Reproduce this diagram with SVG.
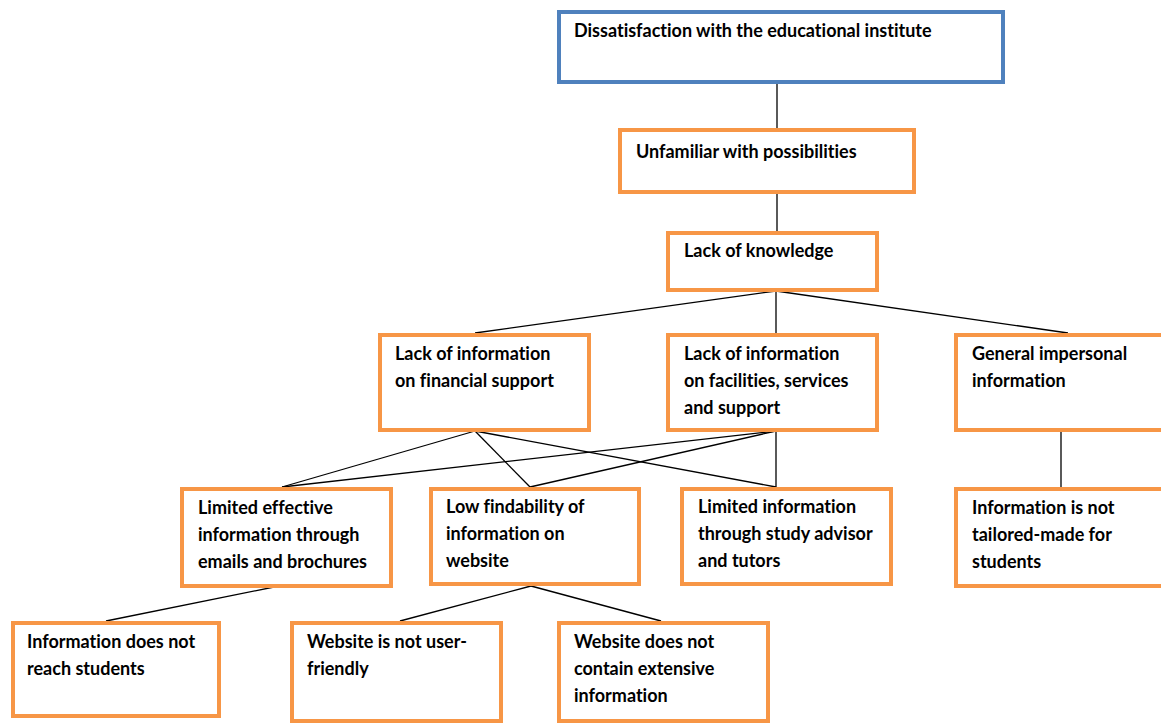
<svg xmlns="http://www.w3.org/2000/svg" width="1161" height="725" viewBox="0 0 1161 725">
  <style>
    .box { fill: #ffffff; stroke: #F79646; stroke-width: 4; }
    .root { fill: #ffffff; stroke: #4F81BD; stroke-width: 4; }
    .lbl { font-family: Lato, "Liberation Sans", sans-serif; font-weight: bold; font-size: 18px; fill: #000000; font-variant-ligatures: none; }
    .edge { stroke: #000000; stroke-width: 1.3; fill: none; }
  </style>
  <rect width="1161" height="725" fill="#ffffff"/>

  <!-- connectors -->
  <g id="connectors">
    <line class="edge" x1="777" y1="82" x2="777" y2="128"/>
    <line class="edge" x1="777" y1="193" x2="777" y2="231"/>
    <line class="edge" x1="776" y1="291" x2="475" y2="333"/>
    <line class="edge" x1="776" y1="291" x2="776" y2="333"/>
    <line class="edge" x1="776" y1="291" x2="1068" y2="333"/>
    <line class="edge" x1="475" y1="431" x2="282" y2="487"/>
    <line class="edge" x1="475" y1="431" x2="530" y2="487"/>
    <line class="edge" x1="475" y1="431" x2="776" y2="487"/>
    <line class="edge" x1="776" y1="431" x2="282" y2="487"/>
    <line class="edge" x1="776" y1="431" x2="530" y2="487"/>
    <line class="edge" x1="776" y1="431" x2="776" y2="487"/>
    <line class="edge" x1="1061" y1="431" x2="1061" y2="487"/>
    <line class="edge" x1="274" y1="587" x2="106" y2="621"/>
    <line class="edge" x1="531" y1="586" x2="400" y2="621"/>
    <line class="edge" x1="531" y1="586" x2="661" y2="621"/>
  </g>

  <g id="n-dissatisfaction">
    <rect class="root" x="559" y="12" width="444" height="70"/>
    <text class="lbl" x="574" y="37">Dissatisfaction with the educational institute</text>
  </g>

  <g id="n-unfamiliar">
    <rect class="box" x="620" y="130" width="294" height="62"/>
    <text class="lbl" x="636" y="158">Unfamiliar with possibilities</text>
  </g>

  <g id="n-lack-knowledge">
    <rect class="box" x="668" y="233" width="209" height="57"/>
    <text class="lbl" x="684" y="257">Lack of knowledge</text>
  </g>

  <g id="n-financial">
    <rect class="box" x="380" y="335" width="209" height="95"/>
    <text class="lbl" x="395" y="360">Lack of information</text>
    <text class="lbl" x="395" y="387">on financial  support</text>
  </g>

  <g id="n-facilities">
    <rect class="box" x="668" y="335" width="209" height="95"/>
    <text class="lbl" x="684" y="360">Lack of information</text>
    <text class="lbl" x="684" y="387">on facilities, services</text>
    <text class="lbl" x="684" y="414">and support</text>
  </g>

  <g id="n-impersonal">
    <rect class="box" x="956" y="335" width="214" height="95"/>
    <text class="lbl" x="972" y="360">General impersonal</text>
    <text class="lbl" x="972" y="387">information</text>
  </g>

  <g id="n-emails">
    <rect class="box" x="182" y="489" width="209" height="97"/>
    <text class="lbl" x="198" y="514">Limited effective</text>
    <text class="lbl" x="198" y="541">information through</text>
    <text class="lbl" x="198" y="568">emails and brochures</text>
  </g>

  <g id="n-findability">
    <rect class="box" x="431" y="489" width="208" height="95"/>
    <text class="lbl" x="446" y="513">Low findability of</text>
    <text class="lbl" x="446" y="540">information on</text>
    <text class="lbl" x="446" y="567">website</text>
  </g>

  <g id="n-advisor">
    <rect class="box" x="682" y="489" width="209" height="95"/>
    <text class="lbl" x="698" y="513">Limited information</text>
    <text class="lbl" x="698" y="540">through study advisor</text>
    <text class="lbl" x="698" y="567">and tutors</text>
  </g>

  <g id="n-tailored">
    <rect class="box" x="956" y="489" width="214" height="97"/>
    <text class="lbl" x="972" y="514">Information is not</text>
    <text class="lbl" x="972" y="541">tailored-made for</text>
    <text class="lbl" x="972" y="568">students</text>
  </g>

  <g id="n-reach">
    <rect class="box" x="13" y="623" width="206" height="93"/>
    <text class="lbl" x="27" y="648">Information does not</text>
    <text class="lbl" x="27" y="675">reach students</text>
  </g>

  <g id="n-userfriendly">
    <rect class="box" x="292" y="623" width="209" height="98"/>
    <text class="lbl" x="307" y="648">Website is not user-</text>
    <text class="lbl" x="307" y="675">friendly</text>
  </g>

  <g id="n-extensive">
    <rect class="box" x="559" y="623" width="209" height="98"/>
    <text class="lbl" x="574" y="648">Website does not</text>
    <text class="lbl" x="574" y="675">contain extensive</text>
    <text class="lbl" x="574" y="702">information</text>
  </g>
</svg>
